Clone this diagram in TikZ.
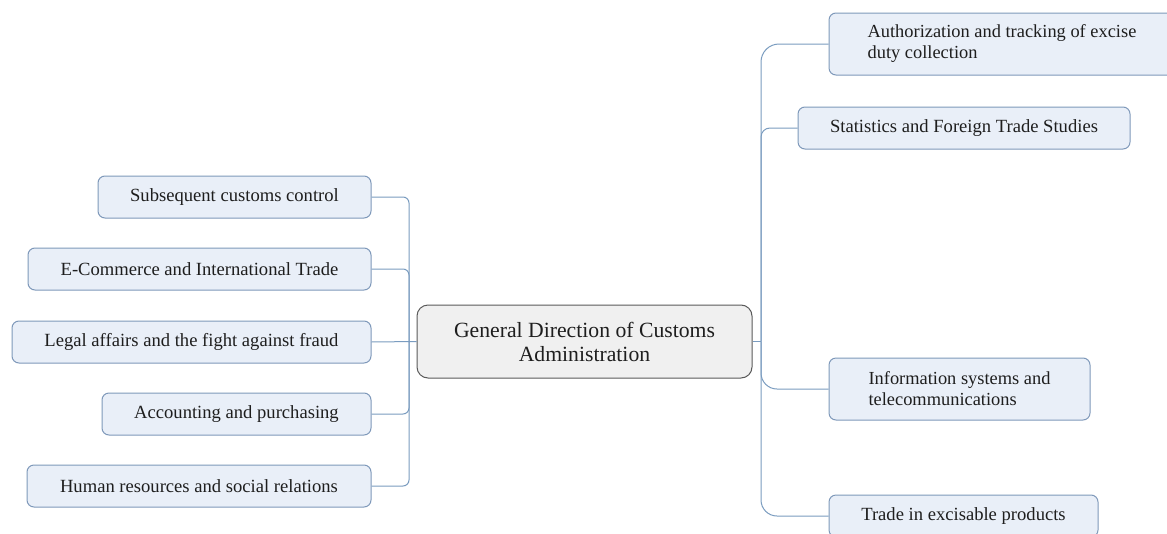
\documentclass[tikz,border=0pt]{standalone}
\usepackage{fontspec}
\setmainfont{Liberation Serif}
\definecolor{boxfill}{HTML}{E9EFF8}
\definecolor{boxline}{HTML}{7F99BA}
\definecolor{conn}{HTML}{7A9CC0}
\definecolor{cfill}{HTML}{F0F0F0}
\definecolor{cline}{HTML}{5A5A5A}
\definecolor{txt}{HTML}{1E1E1E}
\tikzset{
  leaf/.style={draw=boxline, fill=boxfill, rounded corners=7pt, line width=1pt,
    minimum height=42pt, inner sep=0pt, font=\fontsize{18.6}{21}\selectfont, text=txt},
  leaftwo/.style={leaf, minimum height=62pt, align=left, font=\fontsize{18.4}{21}\selectfont},
  root/.style={draw=cline, fill=cfill, rounded corners=11pt, line width=1pt,
    minimum width=335pt, minimum height=73pt, inner sep=0pt, align=center,
    font=\fontsize{21.7}{24}\selectfont, text=txt},
  link/.style={draw=conn, line width=1pt},
}
\begin{document}
\begin{tikzpicture}[x=1pt,y=-1pt]
\useasboundingbox (0,0) rectangle (1167,533);
\fill[white] (0,0) rectangle (1167,533);
% central
\node[root] (c) at (584.5,341.5) {General Direction of Customs\\Administration};
% left
\node[leaf, minimum width=273pt] (sub) at (234.5,197) {Subsequent customs control};
\node[leaf, minimum width=343pt] (ecom) at (199.5,269) {E-Commerce and International Trade};
\node[leaf, minimum width=359pt] (legal) at (191.5,342) {Legal affairs and the fight against fraud};
\node[leaf, minimum width=269pt] (acc) at (236.5,414) {Accounting and purchasing};
\node[leaf, minimum width=344pt] (hum) at (199,486) {Human resources and social relations};
% right
\node[leaftwo, minimum width=346pt] (auth) at (1002,44) {Authorization and tracking of excise\\duty collection};
\node[leaf, minimum width=332pt] (stat) at (964,128) {Statistics and Foreign Trade Studies};
\node[leaftwo, minimum width=261pt] (info) at (959.5,389) {Information systems and\\telecommunications};
\node[leaf, minimum width=269pt] (trade) at (963.5,516) {Trade in excisable products};
% left connectors
\coordinate (lt) at (409,342);
\draw[link] (c.west) -- (legal.east);
\draw[link, rounded corners=6pt] (lt) |- (sub.east);
\draw[link, rounded corners=6pt] (lt) |- (ecom.east);
\draw[link, rounded corners=6pt] (lt) |- (acc.east);
\draw[link, rounded corners=6pt] (lt) |- (hum.east);
% right connectors
\coordinate (rt) at (761,341.5);
\draw[link] (c.east) -- (rt);
\draw[link, rounded corners=18pt] (rt) |- (auth.west);
\draw[link, rounded corners=9pt] (rt) |- (stat.west);
\draw[link, rounded corners=16pt] (rt) |- (info.west);
\draw[link, rounded corners=16pt] (rt) |- (trade.west);
\end{tikzpicture}
\end{document}
